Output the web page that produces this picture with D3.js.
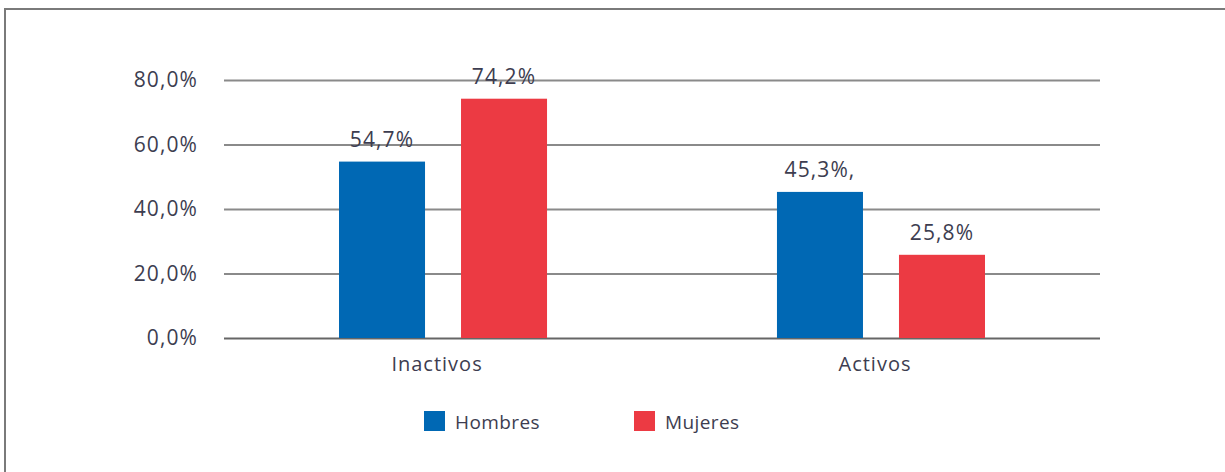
<!DOCTYPE html>
<html><head><meta charset="utf-8">
<script src="https://cdn.jsdelivr.net/npm/d3@7"></script>
<style>
html,body{margin:0;padding:0;background:#fff;}
text{font-family:"Open Sans",sans-serif;fill:#3d3d50;}
</style></head>
<body>
<svg id="chart" width="1225" height="472"></svg>
<script>
const categories = ["Inactivos", "Activos"];
const series = ["Hombres", "Mujeres"];
const hombres = [54.7, 45.3];
const mujeres = [74.2, 25.8];
const hombresLabels = ["54,7%", "45,3%,"];
const mujeresLabels = ["74,2%", "25,8%"];
const yTicks = [0, 20, 40, 60, 80];
const yTickLabels = ["0,0%", "20,0%", "40,0%", "60,0%", "80,0%"];
const colors = ["#0068b4", "#ec3a43"];

const svg = d3.select("#chart");
// frame
svg.append("path").attr("d","M5,472 V9 H1225").attr("fill","none").attr("stroke","#7a7a7a").attr("stroke-width",2);

const left = 224, right = 1100;
const y = d3.scaleLinear().domain([0, 80]).range([338, 80]);
const x0 = d3.scaleBand().domain(categories).range([left, right]).paddingInner(0.525).paddingOuter(0.2626);
const x1 = d3.scaleBand().domain(series).range([0, x0.bandwidth()]).paddingInner(0.295);

// gridlines + y labels
const yAxis = d3.axisLeft(y).tickValues(yTicks).tickSize(-(right-left)).tickFormat((d,i)=>yTickLabels[i]).tickPadding(26);
const gy = svg.append("g").attr("transform",`translate(${left},0)`).call(yAxis);
gy.select(".domain").remove();
gy.selectAll(".tick line").attr("stroke","#8a8a8a").attr("stroke-width",2);
gy.selectAll(".tick").filter(d=>d===0).select("line").attr("stroke","#666");
gy.selectAll(".tick text").attr("font-size",21).style("letter-spacing","1.1px").attr("fill","#3d3d50").attr("font-family","Open Sans");

const data = categories.map((c,i)=>({cat:c, vals:[
  {s:series[0], v:hombres[i], label:hombresLabels[i]},
  {s:series[1], v:mujeres[i], label:mujeresLabels[i]}]}));

const g = svg.append("g").selectAll("g").data(data).join("g").attr("transform",d=>`translate(${x0(d.cat)},0)`);
g.selectAll("rect").data(d=>d.vals).join("rect")
  .attr("x",d=>x1(d.s)).attr("width",x1.bandwidth())
  .attr("y",d=>y(d.v)).attr("height",d=>y(0)-y(d.v))
  .attr("fill",(d,i)=>colors[i]);
g.selectAll("text.val").data(d=>d.vals).join("text").attr("class","val")
  .attr("x",d=>x1(d.s)+x1.bandwidth()/2).attr("y",d=>y(d.v)-15)
  .attr("text-anchor","middle").attr("font-size",21).style("letter-spacing","1.1px")
  .text(d=>d.label);

// x axis labels
const xAxis = d3.axisBottom(x0).tickSize(0).tickPadding(0);
const gx = svg.append("g").attr("transform",`translate(-6,${y(0)})`).call(xAxis);
gx.select(".domain").remove();
gx.selectAll(".tick text").attr("font-size",20).style("letter-spacing","1px").attr("fill","#3d3d50").attr("font-family","Open Sans").attr("y",33).attr("dy",0);

// legend
const legendX = d3.scalePoint().domain(series).range([424, 634]);
const lg = svg.append("g").selectAll("g").data(series).join("g").attr("transform",d=>`translate(${legendX(d)},411)`);
lg.append("rect").attr("width",21).attr("height",20).attr("fill",(d,i)=>colors[i]);
lg.append("text").attr("x",31).attr("y",18).attr("font-size",19).style("letter-spacing","0.4px").text(d=>d);
</script>
</body></html>
